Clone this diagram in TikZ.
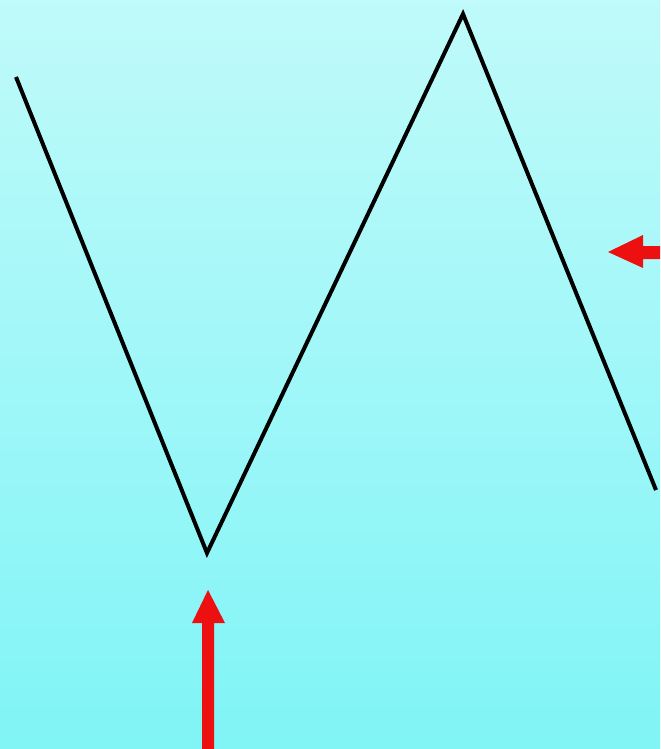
\documentclass[tikz,border=0pt]{standalone}
\begin{document}
\begin{tikzpicture}[x=0.75pt,y=-0.75pt,
  zig/.style={line width=3pt,draw=black,line join=miter},
  redarrow/.style={fill=arrowred,draw=none}]
\definecolor{bgtop}{RGB}{192,250,250}
\definecolor{bgbot}{RGB}{128,244,246}
\definecolor{arrowred}{RGB}{236,16,16}
\shade[top color=bgtop,bottom color=bgbot] (0,0) rectangle (660,749);
\useasboundingbox (0,0) rectangle (660,749);
\coordinate (p1) at (16,77);
\coordinate (p2) at (207,553);
\coordinate (p3) at (463,14);
\coordinate (p4) at (656,490);
\draw[zig] (p1) -- (p2) -- (p3) -- (p4);
% upward arrow
\fill[redarrow] (202,749) -- (202,623) -- (192,623) -- (208,590) -- (225,623) -- (214,623) -- (214,749) -- cycle;
% leftward arrow
\fill[redarrow] (660,246) -- (643,246) -- (643,235) -- (608,252) -- (643,268) -- (643,259) -- (660,259) -- cycle;
\end{tikzpicture}
\end{document}
